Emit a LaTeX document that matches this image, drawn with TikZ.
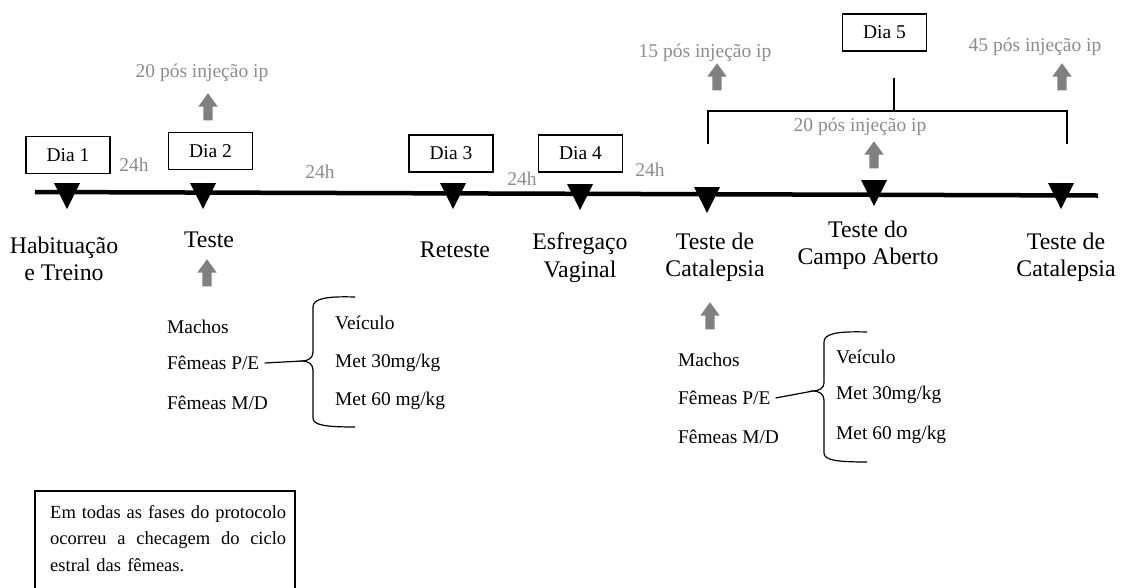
\documentclass[tikz,border=0pt]{standalone}
\usepackage{fontspec}
\setmainfont{Liberation Serif}
\usetikzlibrary{shapes.arrows}
\definecolor{gtext}{HTML}{8C8C8C}
\definecolor{garrow}{HTML}{808080}
\tikzset{
  mainlbl/.style={font=\fontsize{23.8}{27.5}\selectfont, align=center, inner sep=0pt},
  smalllbl/.style={font=\fontsize{19.4}{22}\selectfont, anchor=west, inner sep=0pt},
  graylbl/.style={font=\fontsize{19.5}{22}\selectfont, text=gtext, inner sep=0pt},
  daybox/.style={draw, line width=1.1pt, minimum width=84pt, minimum height=37pt, font=\fontsize{19.5}{22}\selectfont, inner sep=0pt},
  uparrow/.style={single arrow, rotate=90, fill=garrow, draw=none, minimum height=27pt,
    inner xsep=0pt, inner ysep=4.5pt, single arrow head extend=5pt, single arrow tip angle=72},
  tri/.pic={\fill (-13,0) -- (13,0) -- (0,26) -- cycle;},
  thinline/.style={line width=1.2pt},
}
\begin{document}
\begin{tikzpicture}[x=1pt, y=-1pt]
\useasboundingbox (0,0) rectangle (1123,587);

% timeline
\coordinate (tlL) at (35,192);
\coordinate (tlR) at (1098,195.5);
\draw[line width=4.5pt] (tlL) -- (tlR);

% triangles (top centre)
\coordinate (t1) at (67,183);
\coordinate (t2) at (203,183);
\coordinate (t3) at (453,183);
\coordinate (t4) at (580,184);
\coordinate (t5) at (707,187);
\coordinate (t6) at (874,180);
\coordinate (t7) at (1061,183);
\foreach \t in {t1,t2,t3,t4,t5,t6,t7} \pic at (\t) {tri};

% day boxes
\node[daybox] (d1) at (68,155) {Dia 1};
\node[daybox] (d2) at (210.5,151) {Dia 2};
\node[daybox] (d3) at (451,153.5) {Dia 3};
\node[daybox] (d4) at (580.5,153.5) {Dia 4};
\node[daybox] (d5) at (884.5,32.5) {Dia 5};

% 24h labels
\node[graylbl] (h1) at (134,165) {24h};
\node[graylbl] (h2) at (320,172) {24h};
\node[graylbl] (h3) at (522,179) {24h};
\node[graylbl] (h4) at (650,170) {24h};

% injection labels
\node[graylbl] (i1) at (202,73) {20 pós injeção ip};
\node[graylbl] (i2) at (705,53) {15 pós injeção ip};
\node[graylbl] (i3) at (1035,47) {45 pós injeção ip};
\node[graylbl] (i4) at (860,127) {20 pós injeção ip};

% gray arrows
\node[uparrow] (a1) at (208,110) {};
\node[uparrow] (a2) at (207,276) {};
\node[uparrow] (a3) at (717,80) {};
\node[uparrow] (a4) at (1062,80) {};
\node[uparrow] (a5) at (874,158) {};
\node[uparrow] (a6) at (710,319) {};

% bracket for day 5
\coordinate (bl) at (708,144);
\coordinate (br) at (1067,144);
\coordinate (bm) at (894,111);
\coordinate (bt) at (894,78);
\draw[thinline] (bl) |- (bm) -| (br);
\draw[thinline] (bt) -- (bm);

% phase labels
\node[mainlbl] (p1) at (64,259) {Habituação\\e Treino};
\node[mainlbl] (p2) at (209,240) {Teste};
\node[mainlbl] (p3) at (455,250) {Reteste};
\node[mainlbl] (p4) at (580,257.5) {Esfregaço\\Vaginal};
\node[mainlbl] (p5) at (715,257.5) {Teste de\\Catalepsia};
\node[mainlbl] (p6) at (868,245.5) {Teste do\\Campo Aberto};
\node[mainlbl] (p7) at (1066,257.5) {Teste de\\Catalepsia};

% group 1
\node[smalllbl] (m1) at (167,327) {Machos};
\node[smalllbl] (f1) at (167,363) {Fêmeas P/E};
\node[smalllbl] (g1) at (167,403) {Fêmeas M/D};
\node[smalllbl] (v1) at (335,323) {Veículo};
\node[smalllbl] (x1) at (335,363) {Met 30mg/kg};
\node[smalllbl] (y1) at (335,401) {Met 60 mg/kg};
\coordinate (k1) at (302,361);
\draw[thinline] (355,297) .. controls (325,296) and (313,299) .. (313,307) -- (313,352)
  .. controls (313,358) and (308,361) .. (k1)
  .. controls (308,361) and (313,364) .. (313,370) -- (313,418)
  .. controls (313,425) and (325,427) .. (355,427);
\draw[thinline] ([xshift=5pt]f1.east) -- (k1);

% group 2
\node[smalllbl] (m2) at (678,360) {Machos};
\node[smalllbl] (f2) at (678,398) {Fêmeas P/E};
\node[smalllbl] (g2) at (678,437) {Fêmeas M/D};
\node[smalllbl] (v2) at (836,357) {Veículo};
\node[smalllbl] (x2) at (836,395) {Met 30mg/kg};
\node[smalllbl] (y2) at (836,435) {Met 60 mg/kg};
\coordinate (k2) at (813,391);
\draw[thinline] (867,332) .. controls (836,331) and (824,334) .. (824,342) -- (824,383)
  .. controls (824,388) and (819,391) .. (k2)
  .. controls (819,391) and (824,394) .. (824,400) -- (824,453)
  .. controls (824,460) and (836,462) .. (867,462);
\draw[thinline] ([xshift=5pt]f2.east) -- (k2);

% note box
\node[font=\fontsize{18.5}{26.5}\selectfont, anchor=north west, inner sep=0pt, align=left, text width=236pt] (note) at (50,505)
  {\makebox[236pt][l]{Em\hfill todas\hfill as\hfill fases\hfill do\hfill protocolo}\\
   \makebox[236pt][l]{ocorreu\hfill a\hfill checagem\hfill do\hfill ciclo}\\
   estral das fêmeas.};
\coordinate (nb1) at (35,491);
\coordinate (nb2) at (295,620);
\draw[line width=1.1pt] (nb1) rectangle (nb2);
\end{tikzpicture}
\end{document}
